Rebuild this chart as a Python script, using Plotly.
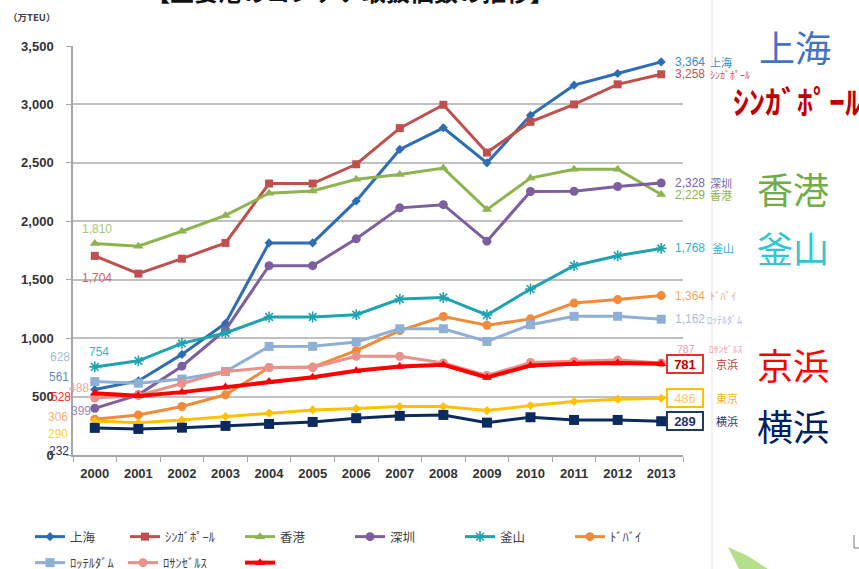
import plotly.graph_objects as go

# ---- data (万TEU) ----
years = [str(y) for y in range(2000, 2014)]

shanghai   = [561, 634, 861, 1128, 1815, 1815, 2174, 2615, 2800, 2500, 2907, 3165, 3265, 3364]
singapore  = [1704, 1552, 1680, 1815, 2323, 2323, 2488, 2797, 2997, 2588, 2851, 3000, 3172, 3258]
hongkong   = [1810, 1787, 1915, 2050, 2240, 2260, 2360, 2400, 2455, 2100, 2370, 2445, 2445, 2229]
shenzhen   = [399, 515, 760, 1070, 1620, 1620, 1850, 2115, 2142, 1830, 2255, 2257, 2298, 2328]
busan      = [754, 806, 955, 1044, 1181, 1181, 1201, 1334, 1348, 1198, 1420, 1620, 1705, 1768]
dubai      = [306, 343, 415, 515, 749, 752, 893, 1065, 1185, 1110, 1165, 1300, 1330, 1364]
rotterdam  = [628, 615, 650, 715, 929, 930, 967, 1080, 1080, 972, 1115, 1187, 1187, 1162]
losangeles = [488, 509, 612, 715, 749, 749, 844, 844, 787, 680, 792, 801, 812, 787]
keihin     = [528, 506, 538, 581, 629, 666, 720, 758, 772, 663, 766, 781, 787, 781]
tokyo      = [290, 277, 300, 329, 358, 386, 397, 415, 415, 380, 423, 458, 478, 486]
yokohama   = [232, 223, 234, 249, 266, 283, 315, 335, 343, 277, 323, 300, 300, 289]

y_ticks = [0, 500, 1000, 1500, 2000, 2500, 3000, 3500]

# category positions of the first and last year (used for label anchoring)
FIRST = 0
LAST = len(years) - 1

# ---- geometry helpers (pixel -> paper) ----
FIG_W, FIG_H = 859, 569
L, R, T, B = 73, 683, 46, 455


def px_x(px):
    return (px - L) / (R - L)


def px_y(py):
    return (B - py) / (B - T)


JP = "Noto Sans CJK JP"
NUM = "Liberation Sans"

# name, values, line colour, marker symbol, marker size, line width, legend slot
series = [
    ("上海", shanghai, "#2E6DB4", "diamond", 7, 3, (35, 535)),
    ("ｼﾝｶﾞﾎﾟｰﾙ", singapore, "#C0504D", "square", 8, 3, (130, 535)),
    ("香港", hongkong, "#8DB44F", "triangle-up", 9, 3, (245, 535)),
    ("深圳", shenzhen, "#7D5FA0", "circle", 9, 3, (355, 535)),
    ("釜山", busan, "#1FA3B0", "asterisk-open", 9, 3, (465, 535)),
    ("ﾄﾞﾊﾞｲ", dubai, "#F28A3C", "circle", 9, 3, (575, 535)),
    ("ﾛｯﾃﾙﾀﾞﾑ", rotterdam, "#8FAFD6", "square", 9, 3, (35, 561)),
    ("ﾛｻﾝｾﾞﾙｽ", losangeles, "#E9918B", "circle", 9, 3, (128, 561)),
    (" ", keihin, "#FF0000", "triangle-up", 9, 4, (245, 561)),
    ("東京", tokyo, "#FFC000", "diamond", 7, 3, None),
    ("横浜", yokohama, "#0B2A5E", "square", 10, 3, None),
]

fig = go.Figure()
legend_layouts = {}
slot = 0
for name, vals, color, symbol, size, width, leg in series:
    marker = dict(symbol=symbol, size=size, color=color)
    if symbol.endswith("-open"):
        marker["line"] = dict(color=color, width=1.6)
    else:
        marker["line"] = dict(color=color, width=0)
    kw = {}
    if leg is not None:
        slot += 1
        key = "legend" if slot == 1 else f"legend{slot}"
        kw["legend"] = key
        lx, ly = leg
        legend_layouts[key] = dict(
            x=px_x(lx - 5), y=px_y(ly - 13), xanchor="left", yanchor="top",
            orientation="h", bgcolor="rgba(0,0,0,0)", borderwidth=0,
            font=dict(family=JP, size=12.5, color="#404040"),
            itemwidth=30,
        )
    fig.add_trace(go.Scatter(
        x=years, y=vals, mode="lines+markers", name=name,
        line=dict(color=color, width=width), marker=marker,
        showlegend=leg is not None, cliponaxis=False, **kw,
    ))

annotations = []

# ---- value labels at 2000 ----
left_labels = [
    (hongkong, "#A6C676", 2, 14.5),
    (singapore, "#D9645F", 2, -22),
    (busan, "#35B5D5", 4, 15),
    (rotterdam, "#A3BCDB", -35, 25),
    (shanghai, "#5A8DC8", -36, 12),
    (losangeles, "#F0A8A2", -16, 10),
    (keihin, "#FF3030", -34, -4),
    (shenzhen, "#9C86B6", -14, -3),
    (dubai, "#F7AE78", -37, 2),
    (tokyo, "#FFCF45", -37, -13),
    (yokohama, "#1F3864", -36, -23),
]
for vals, col, dx, dy in left_labels:
    annotations.append(dict(
        x=FIRST, y=vals[0], xref="x", yref="y", text=f"{vals[0]:,}",
        showarrow=False, xshift=dx, yshift=dy, xanchor="center", yanchor="middle",
        font=dict(family=NUM, size=12, color=col),
    ))

# ---- value + name labels at 2013 ----
right_labels = [
    (shanghai, "上海", "#3A8CC6", "#3A8CC6", 11, 0, 708),
    (singapore, "ｼﾝｶﾞﾎﾟｰﾙ", "#D0504D", "#D0504D", 10, 0, 708),
    (shenzhen, "深圳", "#8064A2", "#8064A2", 11, 0, 708),
    (hongkong, "香港", "#8DB44F", "#8DB44F", 11, 0, 708),
    (busan, "釜山", "#2EB3D3", "#2EB3D3", 11, 0, 710),
    (dubai, "ﾄﾞﾊﾞｲ", "#F5A466", "#F5A466", 10.5, 0, 708),
    (rotterdam, "ﾛｯﾃﾙﾀﾞﾑ", "#A9BEDA", "#A9BEDA", 10, 0, 705),
]
for vals, nm, vcol, ncol, nsize, dy, nx in right_labels:
    annotations.append(dict(
        x=LAST, y=vals[-1], xref="x", yref="y", text=f"{vals[-1]:,}",
        showarrow=False, xshift=12, yshift=dy, xanchor="left", yanchor="middle",
        font=dict(family=NUM, size=12, color=vcol),
    ))
    annotations.append(dict(
        x=px_x(nx), y=vals[-1], xref="paper", yref="y", text=nm,
        showarrow=False, yshift=dy, xanchor="left", yanchor="middle",
        font=dict(family=JP, size=nsize, color=ncol),
    ))

# Los Angeles: small pink label above the Keihin box
annotations.append(dict(
    x=LAST, y=losangeles[-1], xref="x", yref="y", text=f"{losangeles[-1]:,}",
    showarrow=False, xshift=14, yshift=14, xanchor="left", yanchor="middle",
    font=dict(family=NUM, size=10.5, color="#F49AB4"),
))
annotations.append(dict(
    x=px_x(707), y=losangeles[-1], xref="paper", yref="y", text="ﾛｻﾝｾﾞﾙｽ",
    showarrow=False, yshift=14, xanchor="left", yanchor="middle",
    font=dict(family=JP, size=9.5, color="#F49AB4"),
))

# boxed labels for the Japanese ports
boxed = [
    (keihin, "京浜", "#C00000", "#E8302E", "#C0392B", True),
    (tokyo, "東京", "#F6CB6A", "#FFC000", "#F2B21E", False),
    (yokohama, "横浜", "#1F3864", "#1F3864", "#1F3864", True),
]
for vals, nm, tcol, bcol, ncol, bold in boxed:
    annotations.append(dict(
        x=LAST, y=vals[-1], xref="x", yref="y", text=f"{vals[-1]:,}",
        showarrow=False, xshift=24, xanchor="center", yanchor="middle",
        width=32, height=14, borderpad=1, borderwidth=2, bordercolor=bcol,
        bgcolor="white",
        font=dict(family=NUM, size=13, color=tcol, weight="bold" if bold else "normal"),
    ))
    annotations.append(dict(
        x=px_x(714), y=vals[-1], xref="paper", yref="y", text=nm,
        showarrow=False, xanchor="left", yanchor="middle",
        font=dict(family=JP, size=11, color=ncol),
    ))

# ---- large port names on the right ----
big = [
    ("上海", "#4472C4", 795, 46, 36),
    ("香港", "#70AD47", 793, 188, 36),
    ("釜山", "#33C6CC", 793, 247, 36),
    ("京浜", "#FF0000", 793, 364, 36),
    ("横浜", "#002060", 793, 425, 36),
]
for txt, col, cx, cy, fs in big:
    annotations.append(dict(
        x=px_x(cx), y=px_y(cy), xref="paper", yref="paper", text=txt,
        showarrow=False, xanchor="center", yanchor="middle",
        font=dict(family=JP, size=fs, color=col),
    ))
annotations.append(dict(
    x=px_x(731), y=px_y(100), xref="paper", yref="paper", text="ｼﾝｶﾞﾎﾟｰﾙ",
    showarrow=False, xanchor="left", yanchor="middle",
    font=dict(family=JP, size=32, color="#C00000", weight="bold"),
))

# unit caption and (partly hidden) heading
annotations.append(dict(
    x=px_x(31), y=px_y(17), xref="paper", yref="paper", text="（万TEU）",
    showarrow=False, xanchor="center", yanchor="middle",
    font=dict(family=JP, size=9.5, color="#404040", weight="bold"),
))
annotations.append(dict(
    x=px_x(350), y=px_y(-10), xref="paper", yref="paper",
    text="【主要港のコンテナ取扱個数の推移】",
    showarrow=False, xanchor="center", yanchor="middle",
    font=dict(family=JP, size=24, color="#111111", weight="bold"),
))

shapes = [
    # outer frame edge of the chart object
    dict(type="line", xref="paper", yref="paper",
         x0=px_x(712), x1=px_x(712), y0=px_y(0), y1=px_y(FIG_H),
         line=dict(color="#E4E4E4", width=1)),
    # green leaf in the lower right corner
    dict(type="path", xref="paper", yref="paper",
         path=(f"M {px_x(728)},{px_y(547)} L {px_x(748)},{px_y(556)} "
               f"L {px_x(768)},{px_y(569)} L {px_x(739)},{px_y(569)} Z"),
         fillcolor="#B5E08A", line=dict(width=0)),
    dict(type="line", xref="paper", yref="paper",
         x0=px_x(854), x1=px_x(854), y0=px_y(535), y1=px_y(548),
         line=dict(color="#777777", width=1)),
    dict(type="line", xref="paper", yref="paper",
         x0=px_x(854), x1=px_x(859), y0=px_y(548), y1=px_y(548),
         line=dict(color="#777777", width=1)),
]

fig.update_layout(
    width=FIG_W, height=FIG_H,
    margin=dict(l=L, r=FIG_W - R, t=T, b=FIG_H - B, pad=0, autoexpand=False),
    paper_bgcolor="white", plot_bgcolor="white",
    showlegend=True,
    annotations=annotations,
    shapes=shapes,
    xaxis=dict(
        type="category", tickson="boundaries", ticks="outside", ticklen=5,
        tickcolor="#A6A6A6", showline=True, linecolor="#A6A6A6", linewidth=1.5,
        showgrid=False, ticklabelstandoff=6,
        tickfont=dict(family=NUM, size=13, color="#333333", weight="bold"),
        range=[-0.5, 13.5], fixedrange=True,
    ),
    yaxis=dict(
        range=[0, 3500], tickvals=y_ticks, tickformat=",", ticks="outside", ticklen=5,
        tickcolor="#A6A6A6", showline=True, linecolor="#A6A6A6", linewidth=1.5,
        showgrid=True, gridcolor="#C0C0C0", gridwidth=1.5, zeroline=False,
        ticklabelstandoff=10,
        tickfont=dict(family=NUM, size=13, color="#333333", weight="bold"),
        fixedrange=True,
    ),
    **legend_layouts,
)

fig.write_html("out.html")
